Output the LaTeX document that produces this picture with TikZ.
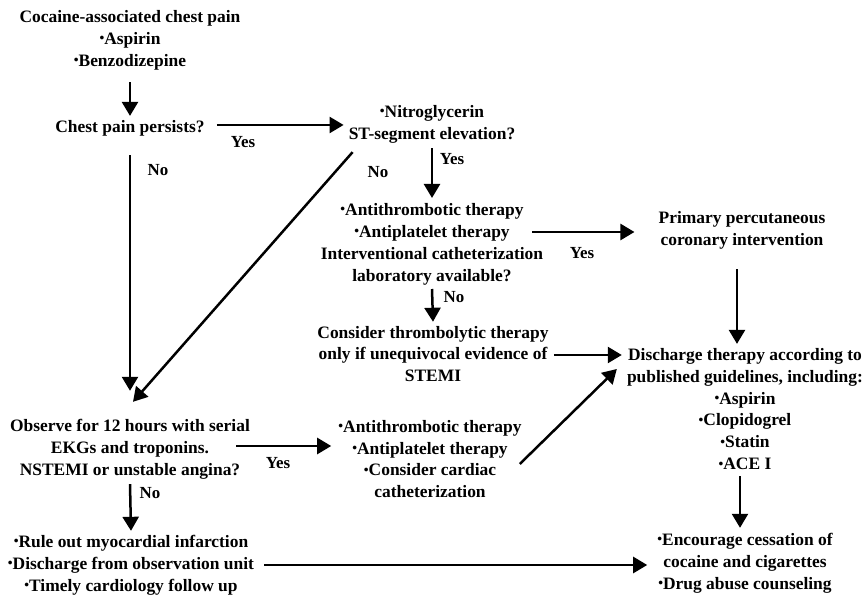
\documentclass[tikz,border=0pt]{standalone}
\usepackage{fontspec}
\setmainfont{Liberation Serif}
\usetikzlibrary{arrows.meta,calc}
\newcommand\bul{\raisebox{0.22ex}{\scalebox{0.78}{•}}}
\begin{document}
\begin{tikzpicture}[x=1bp,y=-1bp,
  txt/.style={font=\bfseries\fontsize{17.5}{22}\selectfont, align=center, inner sep=0pt},
  lbl/.style={font=\bfseries\fontsize{17}{20}\selectfont, inner sep=0pt},
  arr/.style={line width=2.5bp, -{Triangle[length=14bp,width=16bp]}}]
\useasboundingbox[fill=white] (0,0) rectangle (866,598);

% nodes
\node[txt] (top) at (130,40) {Cocaine-associated chest pain\\\bul Aspirin\\\bul Benzodizepine};
\node[txt] (cp) at (130,128) {Chest pain persists?};
\node[txt] (nitro) at (432,124) {\bul Nitroglycerin\\ST-segment elevation?};
\node[txt] (anti1) at (432,244) {\bul Antithrombotic therapy\\\bul Antiplatelet therapy\\Interventional catheterization\\laboratory available?};
\node[txt] (thromb) at (433,354) {Consider thrombolytic therapy\\only if unequivocal evidence of\\STEMI};
\node[txt] (ppci) at (742,230) {Primary percutaneous\\coronary intervention};
\node[txt] (disch) at (745,409) {Discharge therapy according to\\published guidelines, including:\\\bul Aspirin\\\bul Clopidogrel\\\bul Statin\\\bul ACE I};
\node[txt] (obs) at (130,449) {Observe for 12 hours with serial\\EKGs and troponins.\\NSTEMI or unstable angina?};
\node[txt] (anti2) at (430,459) {\bul Antithrombotic therapy\\\bul Antiplatelet therapy\\\bul Consider cardiac\\catheterization};
\node[txt] (rule) at (131,565) {\bul Rule out myocardial infarction\\\bul Discharge from observation unit\\\bul Timely cardiology follow up};
\node[txt] (enc) at (745,563) {\bul Encourage cessation of\\cocaine and cigarettes\\\bul Drug abuse counseling};

% connectors
\draw[arr] ($(top.south)+(0,12)$) -- ($(cp.north)+(0,-4)$);
\draw[arr] ($(cp.east)+(12,-3)$) -- ($(nitro.west)+(-5,1)$);
\node[lbl] at (243,142) {Yes};
\draw[arr] ($(nitro.south)+(0,5)$) -- ($(anti1.north)+(0,-5)$);
\node[lbl] at (452,159) {Yes};
\draw[arr] ($(cp.south)+(0,19)$) -- ($(obs.north)+(0,-28)$);
\node[lbl] at (158,170) {No};
\draw[arr] ($(nitro.south west)+(4,9)$) -- ($(obs.north)+(3,-17)$);
\node[lbl] at (378,172) {No};
\draw[arr] ($(anti1.east)+(-11,-12)$) -- ($(ppci.west)+(-24,2)$);
\node[lbl] at (582,253) {Yes};
\draw[arr] ($(anti1.south)+(0,4)$) -- ($(thromb.north)+(0,-4)$);
\node[lbl] at (454,297) {No};
\draw[arr] ($(thromb.east)+(5,1)$) -- ($(disch.west)+(-5,-54)$);
\draw[arr] ($(ppci.south)+(-5,20)$) -- ($(ppci.south |- disch.north)+(-5,-4)$);
\draw[arr] ($(disch.south)+(-5,6)$) -- ($(disch.south |- enc.north)+(-5,-5)$);
\draw[arr] ($(obs.east)+(-14,-3)$) -- ($(anti2.west)+(-7,-13)$);
\node[lbl] at (278,463) {Yes};
\draw[arr] ($(anti2.east)+(-2,5)$) -- ($(disch.west)+(-10,-40)$);
\draw[arr] ($(obs.south)+(0,5)$) -- ($(rule.north)+(0,-4)$);
\node[lbl] at (150,493) {No};
\draw[arr] ($(rule.east)+(10,0)$) -- ($(enc.west)+(-10,2)$);
\end{tikzpicture}
\end{document}
